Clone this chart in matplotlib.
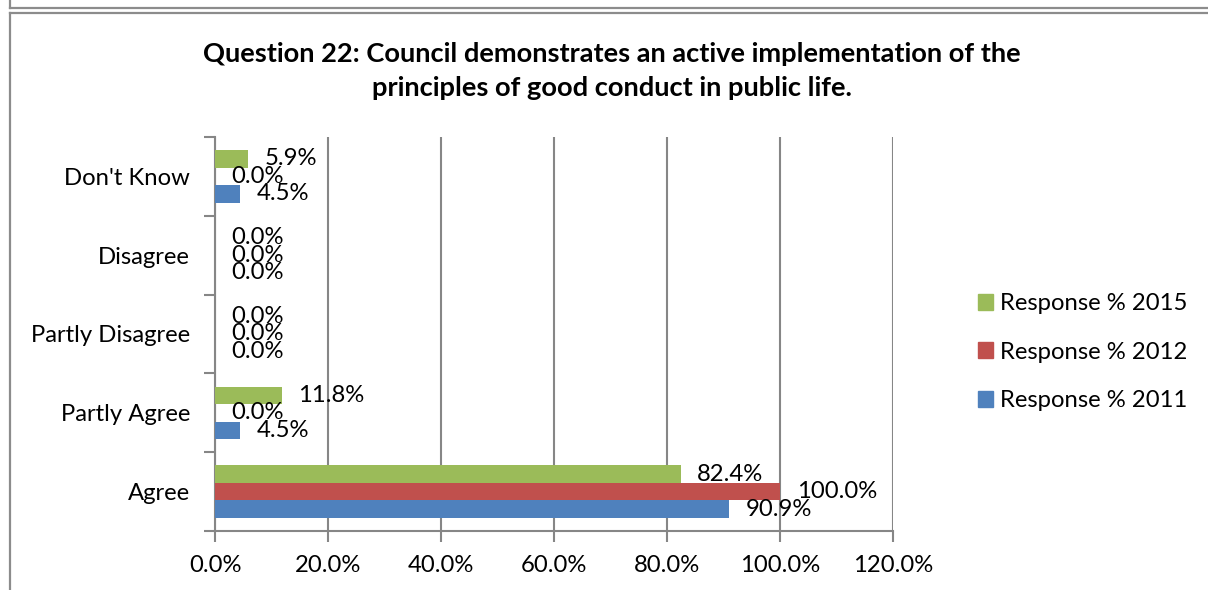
import matplotlib
matplotlib.use("Agg")
import matplotlib.pyplot as plt
from matplotlib.lines import Line2D
from matplotlib.patches import Patch
import numpy as np

categories = ["Agree", "Partly Agree", "Partly Disagree", "Disagree", "Don't Know"]
resp_2011 = [90.9, 4.5, 0.0, 0.0, 4.5]
resp_2012 = [100.0, 0.0, 0.0, 0.0, 0.0]
resp_2015 = [82.4, 11.8, 0.0, 0.0, 5.9]
series_names = ["Response % 2011", "Response % 2012", "Response % 2015"]
x_ticks = [0, 20, 40, 60, 80, 100, 120]
title = ("Question 22: Council demonstrates an active implementation of the\n"
         "principles of good conduct in public life.")

colors = ["#4F81BD", "#C0504D", "#9BBB59"]
grid_col = "#868686"
font = "Lato"
plt.rcParams["font.family"] = [font, "DejaVu Sans"]
fs = 17.2

W, H = 1208, 590
fig = plt.figure(figsize=(W / 100, H / 100), dpi=100)

# frame lines of the surrounding layout
def fig_line(x0, y0, x1, y1):
    fig.add_artist(Line2D([x0 / W, x1 / W], [1 - y0 / H, 1 - y1 / H],
                          transform=fig.transFigure, color="#8c8c8c", lw=1.6))

fig_line(10, 7.5, W, 7.5)
fig_line(10, 0, 10, 7.5)
fig_line(10, 12.5, W, 12.5)
fig_line(10, 12.5, 10, H)

ax = fig.add_axes([215 / W, 1 - 531 / H, (893 - 215) / W, (531 - 137) / H])

y = np.arange(len(categories))
h = 1 / 4.5
series = [resp_2011, resp_2012, resp_2015]
offsets = [-h, 0, h]
for vals, off, col, name in zip(series, offsets, colors, series_names):
    bars = ax.barh(y + off, vals, height=h, color=col, label=name, zorder=3)
    for b, v in zip(bars, vals):
        ax.annotate(f"{v:.1f}%", (b.get_width(), b.get_y() + b.get_height() / 2),
                    xytext=(12, 0), textcoords="offset points",
                    ha="left", va="center", fontsize=fs, color="black", zorder=5)

ax.set_xlim(0, 120)
ax.set_ylim(-0.5, len(categories) - 0.5)
ax.set_xticks(x_ticks)
ax.set_xticklabels([f"{t:.1f}%" for t in x_ticks], fontsize=fs)
ax.set_yticks(np.arange(-0.5, len(categories), 1.0))
ax.set_yticklabels([])
ax.set_yticks(y, minor=True)
ax.set_yticklabels(categories, minor=True, fontsize=fs)
ax.tick_params(axis="y", which="minor", length=0, pad=18)
ax.tick_params(axis="y", which="major", length=8, width=1.5, color=grid_col)
ax.tick_params(axis="x", length=8, width=1.5, color=grid_col, pad=9)

ax.xaxis.grid(True, color=grid_col, lw=1.5, zorder=0)
ax.set_axisbelow(True)
for s in ["top", "right"]:
    ax.spines[s].set_visible(False)
for s in ["left", "bottom"]:
    ax.spines[s].set_color(grid_col)
    ax.spines[s].set_linewidth(1.5)

fig.text(612 / W, 1 - 71 / H, title, ha="center", va="center",
         fontsize=19.6, fontweight="bold", linespacing=1.55)

handles = [Patch(color=colors[i]) for i in (2, 1, 0)]
labels = [series_names[i] for i in (2, 1, 0)]
fig.legend(handles, labels, loc="center left", bbox_to_anchor=(968 / W, 1 - 352 / H),
           frameon=False, fontsize=fs, handlelength=0.65, handleheight=0.65,
           handletextpad=0.3, labelspacing=1.15, borderaxespad=0)

fig.savefig("out.png", dpi=100)
